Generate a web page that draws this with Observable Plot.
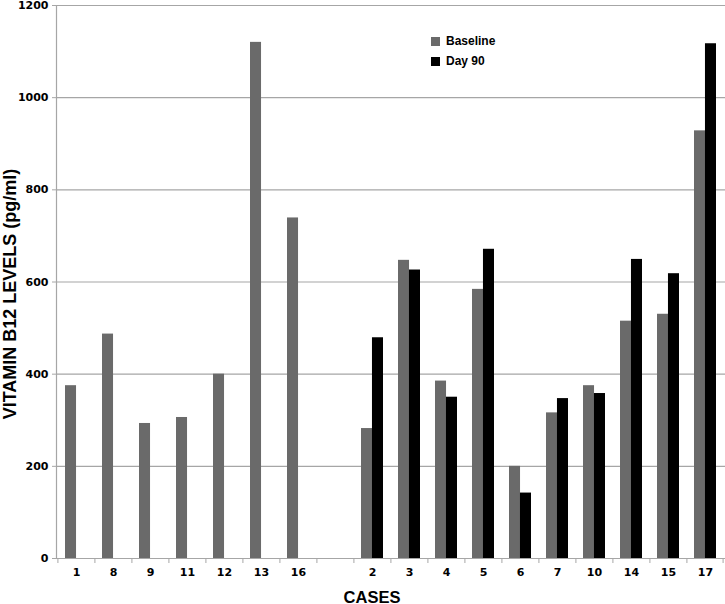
<!DOCTYPE html>
<html>
<head>
<meta charset="utf-8">
<script src="https://cdn.jsdelivr.net/npm/d3@7"></script>
<script src="https://cdn.jsdelivr.net/npm/@observablehq/plot@0.6"></script>
<style>
  html, body { margin: 0; padding: 0; background: #fff; }
  #wrap { position: relative; width: 725px; height: 604px; }
  #wrap svg { overflow: visible; }
  #legend { position: absolute; left: 431px; top: 31px; font-family: "Liberation Sans", Arial, sans-serif; font-weight: bold; font-size: 12px; color: #000; }
  #legend .item { display: flex; align-items: center; height: 20px; }
  #legend .sw { width: 9px; height: 9px; margin-right: 6px; }
  g[aria-label="x-axis label"] text, g[aria-label="y-axis label"] text {
    font-family: "Liberation Sans", Arial, sans-serif; font-weight: bold; fill: #000;
  }
  g[aria-label="y-axis label"] text { font-size: 18px; }
  g[aria-label="x-axis label"] text { font-size: 16.5px; }
</style>
</head>
<body>
<div id="wrap"></div>
<script>
// ---- data ----
const cases = ["1","8","9","11","12","13","16"," ","2","3","4","5","6","7","10","14","15","17"];
const baseline = [375, 487, 293, 306, 400, 1120, 739, null, 282, 647, 385, 584, 200, 316, 375, 515, 530, 928];
const day90 =    [null, null, null, null, null, null, null, null, 479, 626, 350, 671, 142, 347, 358, 649, 618, 1117];
const seriesNames = ["Baseline", "Day 90"];
const seriesColors = ["#6a6a6a", "#000000"];
const yTicks = [0, 200, 400, 600, 800, 1000, 1200];

const rowsBase = cases.map((c, i) => ({case: c, value: baseline[i]})).filter(d => d.value != null);
const rowsDay = cases.map((c, i) => ({case: c, value: day90[i]})).filter(d => d.value != null);

const W = 725, H = 604, mL = 56, mR = 0, mT = 5, mB = 46;
const pad = 0.41;
const step = (W - mL - mR) / cases.length;
const bw = step * (1 - pad);
const half = bw / 2;
const gridColor = "#a6a6a6";

const chart = Plot.plot({
  width: W, height: H,
  marginLeft: mL, marginRight: mR, marginTop: mT, marginBottom: mB,
  style: {fontFamily: "'DejaVu Sans', Verdana, sans-serif", fontSize: "11px", fontWeight: "bold", color: "#000", background: "#fff"},
  x: {type: "band", domain: cases, paddingInner: pad, paddingOuter: pad / 2, align: 0.5},
  y: {domain: [0, 1200]},
  marks: [
    Plot.gridY(yTicks, {stroke: gridColor, strokeOpacity: 1, strokeWidth: 1.2}),
    Plot.barY(rowsBase, {x: "case", y: "value", fill: seriesColors[0], insetRight: half}),
    Plot.barY(rowsDay, {x: "case", y: "value", fill: seriesColors[1], insetLeft: half}),
    Plot.ruleY([0], {stroke: gridColor, strokeWidth: 1.2}),
    Plot.frame({anchor: "left", stroke: gridColor, strokeWidth: 1.2}),
    Plot.ruleX(cases, {x: d => d, y1: 0, y2: 0, dx: -step / 2, insetBottom: -5, stroke: gridColor}),
    Plot.ruleX(cases.slice(-1), {x: d => d, y1: 0, y2: 0, dx: step / 2 - 1, insetBottom: -5, stroke: gridColor}),
    Plot.axisY(yTicks, {tickSize: 4, tickPadding: 4, stroke: gridColor, tickFormat: d => String(d), label: "VITAMIN B12 LEVELS (pg/ml)", labelAnchor: "center", labelArrow: "none", labelOffset: 53}),
    Plot.axisX({tickSize: 0, tickPadding: 10, tickFormat: d => d.trim(), label: "CASES", labelAnchor: "center", labelArrow: "none", labelOffset: 44})
  ]
});

const wrap = document.getElementById("wrap");
wrap.appendChild(chart);

// shift axis titles along their own direction to match the reference placement
chart.querySelectorAll('g[aria-label="x-axis label"] text').forEach(t => t.setAttribute("dx", "-19"));
chart.querySelectorAll('g[aria-label="y-axis label"] text').forEach(t => t.setAttribute("dx", "-12"));

const legend = document.createElement("div");
legend.id = "legend";
seriesNames.forEach((n, i) => {
  const item = document.createElement("div");
  item.className = "item";
  const sw = document.createElement("span");
  sw.className = "sw";
  sw.style.background = seriesColors[i];
  const t = document.createElement("span");
  t.textContent = n;
  item.appendChild(sw);
  item.appendChild(t);
  legend.appendChild(item);
});
wrap.appendChild(legend);
</script>
</body>
</html>
